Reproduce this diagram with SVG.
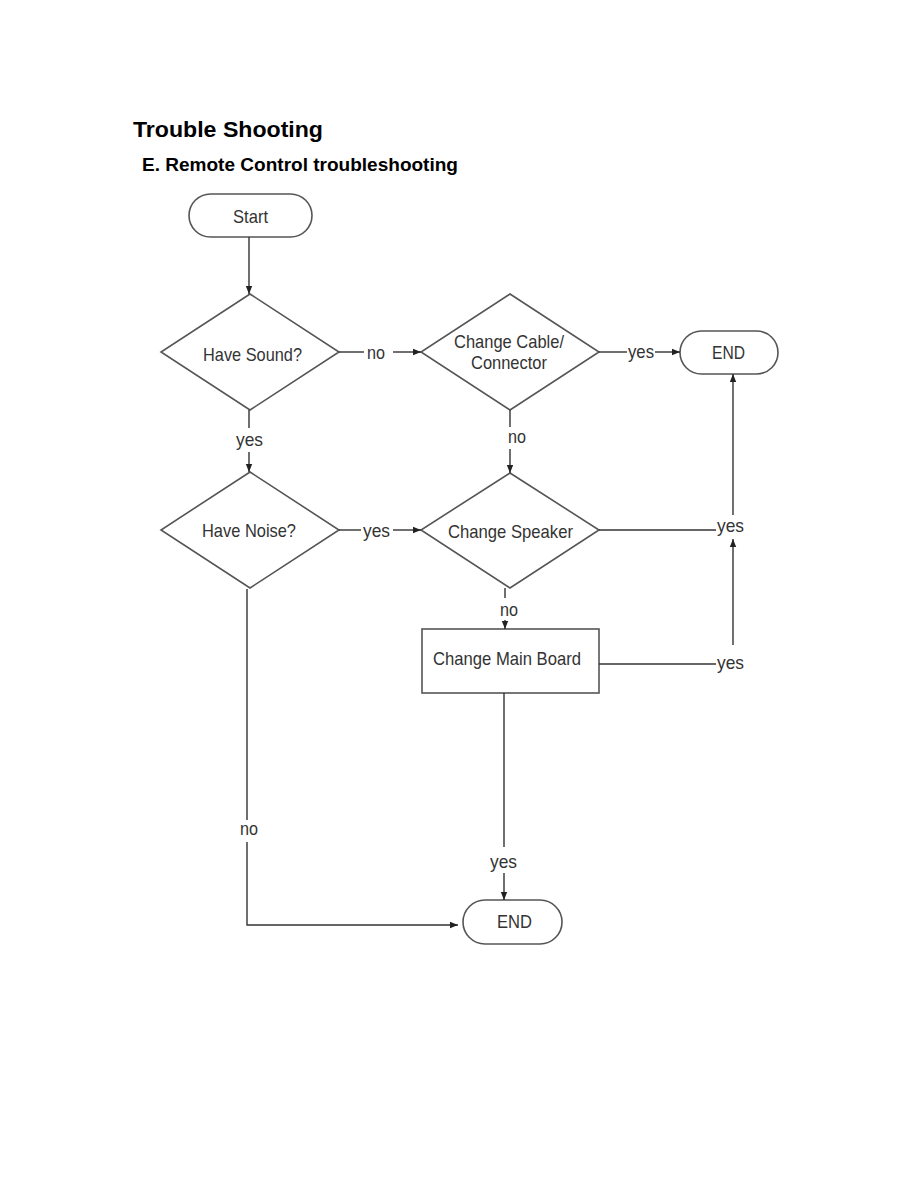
<svg xmlns="http://www.w3.org/2000/svg" width="918" height="1188" viewBox="0 0 918 1188">
<style>
.t{font-family:"Liberation Sans",Arial,sans-serif;font-size:19px;fill:#333}
.h{font-family:"Liberation Sans",Arial,sans-serif;font-weight:bold;fill:#000}
.s{fill:#fff;stroke:#555;stroke-width:1.6}
.c{fill:none;stroke:#333;stroke-width:1.4}
</style>
<defs>
<marker id="ah" viewBox="0 0 10 10" refX="10" refY="5" markerWidth="8" markerHeight="8" markerUnits="userSpaceOnUse" orient="auto">
<path d="M0,1 L10,5 L0,9 z" fill="#222"/>
</marker>
</defs>
<rect width="918" height="1188" fill="#fff"/>
<text class="h" x="133" y="137" font-size="22" textLength="190" lengthAdjust="spacingAndGlyphs">Trouble Shooting</text>
<text class="h" x="142" y="171" font-size="18" textLength="316" lengthAdjust="spacingAndGlyphs">E. Remote Control troubleshooting</text>

<g id="start">
<rect class="s" x="189" y="194" width="123" height="43" rx="21.5"/>
<text class="t" x="233" y="223" textLength="35" lengthAdjust="spacingAndGlyphs">Start</text>
</g>
<g id="have-sound">
<polygon class="s" points="250,294 339,352 250,410 161,352"/>
<text class="t" x="203" y="361" textLength="99" lengthAdjust="spacingAndGlyphs">Have Sound?</text>
</g>
<g id="change-cable">
<polygon class="s" points="510,294 599,352 510,410 421,352"/>
<text class="t" x="454" y="348" textLength="110" lengthAdjust="spacingAndGlyphs">Change Cable/</text>
<text class="t" x="471" y="369" textLength="76" lengthAdjust="spacingAndGlyphs">Connector</text>
</g>
<g id="end1">
<rect class="s" x="680" y="331" width="98" height="43" rx="21.5"/>
<text class="t" x="712" y="359" textLength="33" lengthAdjust="spacingAndGlyphs">END</text>
</g>
<g id="have-noise">
<polygon class="s" points="250,472 339,530 250,588 161,530"/>
<text class="t" x="202" y="537" textLength="94" lengthAdjust="spacingAndGlyphs">Have Noise?</text>
</g>
<g id="change-speaker">
<polygon class="s" points="510,473 599,530 510,588 421,530"/>
<text class="t" x="448" y="538" textLength="125" lengthAdjust="spacingAndGlyphs">Change Speaker</text>
</g>
<g id="change-main-board">
<rect class="s" x="422" y="629" width="177" height="64"/>
<text class="t" x="433" y="665" textLength="148" lengthAdjust="spacingAndGlyphs">Change Main Board</text>
</g>
<g id="end2">
<rect class="s" x="463" y="900" width="99" height="44" rx="22"/>
<text class="t" x="497" y="928" textLength="35" lengthAdjust="spacingAndGlyphs">END</text>
</g>

<g id="connectors">
<line class="c" x1="249" y1="237" x2="249" y2="294" marker-end="url(#ah)"/>
<line class="c" x1="339" y1="352" x2="364" y2="352"/>
<line class="c" x1="393" y1="352" x2="421" y2="352" marker-end="url(#ah)"/>
<line class="c" x1="249" y1="410" x2="249" y2="428"/>
<line class="c" x1="249" y1="452" x2="249" y2="472" marker-end="url(#ah)"/>
<line class="c" x1="599" y1="352" x2="627" y2="352"/>
<line class="c" x1="655" y1="352" x2="680" y2="352" marker-end="url(#ah)"/>
<line class="c" x1="510" y1="410" x2="510" y2="427"/>
<line class="c" x1="510" y1="449" x2="510" y2="473" marker-end="url(#ah)"/>
<line class="c" x1="339" y1="530" x2="361" y2="530"/>
<line class="c" x1="393" y1="530" x2="421" y2="530" marker-end="url(#ah)"/>
<line class="c" x1="599" y1="530" x2="716" y2="530"/>
<line class="c" x1="733" y1="515" x2="733" y2="374" marker-end="url(#ah)"/>
<line class="c" x1="733" y1="645" x2="733" y2="539" marker-end="url(#ah)"/>
<line class="c" x1="599" y1="664" x2="716" y2="664"/>
<line class="c" x1="505" y1="588" x2="505" y2="598"/>
<line class="c" x1="505" y1="620" x2="505" y2="629" marker-end="url(#ah)"/>
<line class="c" x1="504" y1="693" x2="504" y2="847"/>
<line class="c" x1="504" y1="873" x2="504" y2="900" marker-end="url(#ah)"/>
<line class="c" x1="247" y1="589" x2="247" y2="820"/>
<polyline class="c" points="247,842 247,925 458,925" marker-end="url(#ah)"/>
<text class="t" x="367" y="359" textLength="18" lengthAdjust="spacingAndGlyphs">no</text>
<text class="t" x="236" y="446" textLength="27" lengthAdjust="spacingAndGlyphs">yes</text>
<text class="t" x="628" y="358" textLength="26" lengthAdjust="spacingAndGlyphs">yes</text>
<text class="t" x="508" y="443" textLength="18" lengthAdjust="spacingAndGlyphs">no</text>
<text class="t" x="363" y="537" textLength="27" lengthAdjust="spacingAndGlyphs">yes</text>
<text class="t" x="717" y="532" textLength="27" lengthAdjust="spacingAndGlyphs">yes</text>
<text class="t" x="717" y="669" textLength="27" lengthAdjust="spacingAndGlyphs">yes</text>
<text class="t" x="500" y="616" textLength="18" lengthAdjust="spacingAndGlyphs">no</text>
<text class="t" x="240" y="835" textLength="18" lengthAdjust="spacingAndGlyphs">no</text>
<text class="t" x="490" y="868" textLength="27" lengthAdjust="spacingAndGlyphs">yes</text>
</g>
</svg>
